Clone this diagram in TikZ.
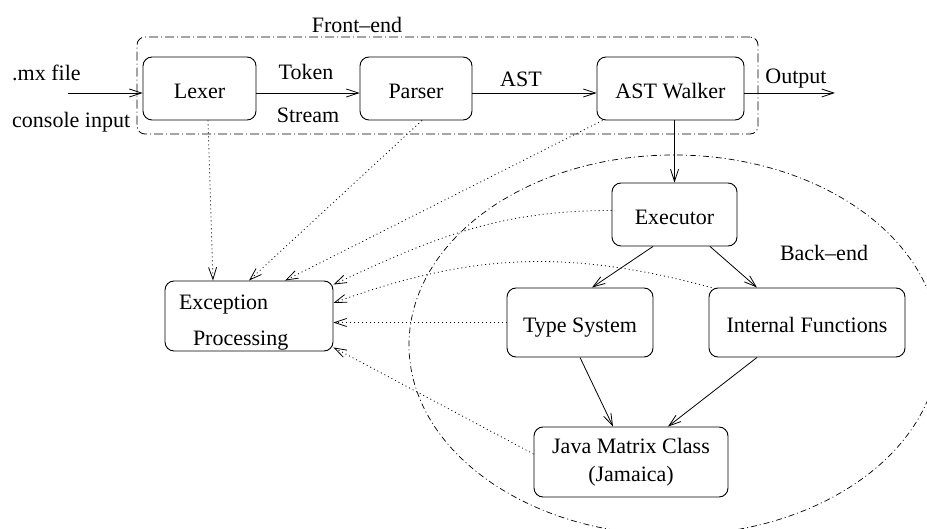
\documentclass[tikz,border=0pt]{standalone}
\usepackage{fontspec}
\setmainfont{Liberation Serif}
\usetikzlibrary{arrows.meta,positioning,shapes.geometric,calc}
\tikzset{
  blk/.style={rectangle,rounded corners=9pt,draw,line width=0.9pt,fill=white,
              inner sep=0pt,text height=20pt,text depth=0pt},
  mblk/.style={rectangle,rounded corners=9pt,draw,line width=0.9pt,fill=white,
               inner sep=0pt},
  lbl/.style={inner sep=0pt},
  grpbox/.style={rectangle,rounded corners=8pt,draw,line width=0.8pt,
                 dash pattern=on 9pt off 3pt on 1pt off 3pt},
  grpell/.style={ellipse,draw,line width=0.7pt,inner sep=0pt,
                 dash pattern=on 6pt off 3pt on 1pt off 3pt},
  arr/.style={-{Straight Barb[length=12pt,width=8pt]},line width=0.8pt},
  darr/.style={arr,dash pattern=on 1pt off 3pt},
}

\begin{document}
\begin{tikzpicture}[x=1pt,y=-1pt,font=\fontsize{22}{26}\selectfont]

  \clip (0,0) rectangle (927,529);
  \useasboundingbox (0,0) rectangle (927,529);

  \node[grpell,minimum width=530pt,minimum height=380pt] (back) at (674,345) {};
  \node[grpbox,minimum width=621pt,minimum height=97pt] (front) at (447.5,85.5) {};
  \node[lbl] (fronttxt) at (357,25) {Front--end};
  \node[lbl] (backtxt)  at (824,253) {Back--end};

  \node[blk,minimum width=113pt,minimum height=63pt] (lexer)  at (199.5,88.5) {Lexer};
  \node[blk,minimum width=112pt,minimum height=63pt] (parser) at (416,88.5)   {Parser};
  \node[blk,minimum width=147pt,minimum height=63pt] (walker) at (670.5,88.5) {AST Walker};
  \node[blk,minimum width=125pt,minimum height=63pt] (exec)   at (674.5,214.5) {Executor};
  \node[blk,minimum width=146pt,minimum height=69pt] (types)  at (580,322.5)  {Type System};
  \node[blk,minimum width=196pt,minimum height=69pt] (intfn)  at (807,322.5)  {Internal Functions};
  \node[mblk,minimum width=194pt,minimum height=70pt,align=center] (jama) at (631,462)
    {Java Matrix Class\\[2pt](Jamaica)};
  \node[mblk,minimum width=168pt,minimum height=70pt,text width=140pt,inner xsep=14pt,
        align=left] (except) at (249,316)
    {\rule{0pt}{27pt}Exception\\[10pt]\hspace*{14pt}Processing};

  \node[lbl,anchor=west] (mxfile)  at (12,73)  {.mx file};
  \node[lbl,anchor=west] (console) at (12,122) {console input};
  \node[lbl] (token)  at (306,72)  {Token};
  \node[lbl] (stream) at (308,115) {Stream};
  \node[lbl] (asttxt) at (521,79)  {AST};
  \node[lbl] (outtxt) at (796,79)  {Output};

  \coordinate (in)  at (68,93);
  \coordinate (out) at (835,93);

  \draw[arr] (in) -- (in -| lexer.west);
  \draw[arr] (lexer.east |- in) -- (parser.west |- in);
  \draw[arr] (parser.east |- in) -- (walker.west |- in);
  \draw[line width=0.8pt] (walker.east |- in) -- (out -| front.east);
  \draw[arr] (out -| front.east) -- (out);

  \draw[arr] (exec.north |- walker.south) -- (exec.north);
  \draw[arr] ([xshift=-21.5pt]exec.south) -- ([xshift=12pt]types.north);
  \draw[arr] ([xshift=35.5pt]exec.south) -- ([xshift=-50pt]intfn.north);
  \draw[arr] (types.south) -- ([xshift=-18pt]jama.north);
  \draw[arr] ([xshift=-50pt]intfn.south) -- ([xshift=37pt]jama.north);

  \draw[darr] ([xshift=8.5pt]lexer.south) -- ([xshift=-36pt]except.north);
  \draw[darr] ([xshift=6pt]parser.south) -- (except.north);
  \draw[darr] ([xshift=6pt]walker.south west) -- ([xshift=36pt]except.north);
  \draw[darr] ([yshift=4pt]exec.west) to[out=180,in=25] ([yshift=-4pt]except.north east);
  \draw[darr] ([xshift=3pt]intfn.north west) to[out=165,in=20] ([yshift=13pt]except.east);
  \draw[darr] (types.west) -- (types.west -| except.east);
  \draw[darr] ([yshift=8pt]jama.west) -- ([yshift=4pt]except.south east);

\end{tikzpicture}
\end{document}
